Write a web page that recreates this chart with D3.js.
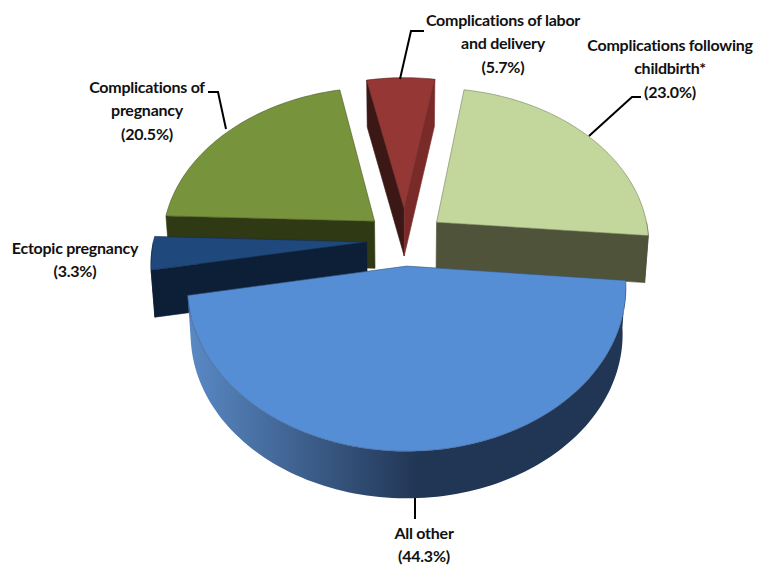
<!DOCTYPE html>
<html><head><meta charset="utf-8">
<script src="https://cdn.jsdelivr.net/npm/d3@7"></script>
<style>html,body{margin:0;background:#fff}svg{display:block}
text{font-family:"Lato","Liberation Sans",sans-serif;font-weight:700;font-size:16px;letter-spacing:-.25px;fill:#111;text-anchor:middle;dominant-baseline:central}</style>
</head><body><svg id="c" width="764" height="566"></svg>
<script>
const categories=["Complications of labor and delivery","Complications following childbirth*","All other","Ectopic pregnancy","Complications of pregnancy"];
const shares=[5.7,23.0,44.3,3.3,20.5];
const explodes=[0.205,0.19,0.165,0.18,0.19];
const topColors=["#953735","#c3d69b","#558ed5","#1f497d","#77933c"];
const startFaceColors=["#3b1715","#4f5339","#2a4a75","#0c1f36","#2f3a15"];
const endFaceColors=["#7a2b29","#4f5339","#2a4a75","#0c1f36","#2f3a15"];
const outerColors=["#632523","#4f5339","url(#blueSide)","#0c1f36","#2f3a15"];
const labelLines=[["Complications of labor","and delivery","(5.7%)"],["Complications following","childbirth*","(23.0%)"],["All other","(44.3%)"],["Ectopic pregnancy","(3.3%)"],["Complications of","pregnancy","(20.5%)"]];

const svg=d3.select("#c");
const cx=405,cy=240,R=213,S=155,P=0.125,D=47,K=0.985;
const labelX=[503,670,424,75,147],labelY=[19,44,532,247,86],lineGap=23.5;
const leaders=[[[400,79],[411,31],[424,31]],[[589,136],[632,97],[641,97]],[[415,498],[415,519]],[],[[226,129],[218,92],[208,92]]];

const toRad=d=>d*Math.PI/180;
const pie=d3.pie().sort(null).value(d=>d).startAngle(toRad(-11.7)).endAngle(toRad(348.3));
const arcs=pie(shares);

const grad=svg.append("defs").append("linearGradient").attr("id","blueSide").attr("gradientUnits","userSpaceOnUse")
  .attr("x1",186).attr("x2",420).attr("y1",0).attr("y2",0);
grad.append("stop").attr("offset",0).attr("stop-color","#5a8ac6");
grad.append("stop").attr("offset",1).attr("stop-color","#213554");

function project(u,v,bottom){
  const w=1-P*v;
  const k=bottom?K:1;
  return [cx+k*R*u/w, cy+S*v/w+(bottom?D:0)];
}
function plane(i,theta){
  const a=arcs[i], mid=(a.startAngle+a.endAngle)/2, e=explodes[i];
  return [e*Math.sin(mid)+ (theta==null?0:Math.sin(theta)), -e*Math.cos(mid)-(theta==null?0:Math.cos(theta))];
}
const line=d3.line();
function arcPts(i,t0,t1,bottom){
  const n=Math.max(2,Math.ceil(Math.abs(t1-t0)/toRad(1.5)));
  return d3.range(n+1).map(j=>{const t=t0+(t1-t0)*j/n;const p=plane(i,t);return project(p[0],p[1],bottom);});
}
function cross(a,b,c){return (b[0]-a[0])*(c[1]-a[1])-(b[1]-a[1])*(c[0]-a[0]);}

const order=[4,1,0,3,2];
order.forEach(i=>{
  const a=arcs[i], g=svg.append("g");
  const ap=plane(i,null), apT=project(ap[0],ap[1],false), apB=project(ap[0],ap[1],true);
  const face=(t,col,isStart)=>{
    const p=plane(i,t), oT=project(p[0],p[1],false), oB=project(p[0],p[1],true);
    const c=cross(apT,oT,[oT[0],oT[1]+10]);
    if(isStart? c<0 : c>0){
      g.append("path").attr("d",line([apT,oT,oB,apB])+"Z").attr("fill",col).attr("stroke",col).attr("stroke-width",.6);
    }
  };
  face(a.startAngle,startFaceColors[i],true);
  face(a.endAngle,endFaceColors[i],false);
  const t0=Math.max(a.startAngle,toRad(90)), t1=Math.min(a.endAngle,toRad(270));
  if(t1>t0){
    g.append("path").attr("d",line(arcPts(i,t0,t1,false).concat(arcPts(i,t1,t0,true)))+"Z")
      .attr("fill",outerColors[i]).attr("stroke",i===2?"none":outerColors[i]).attr("stroke-width",.6);
  }
  g.append("path").attr("d",line([apT].concat(arcPts(i,a.startAngle,a.endAngle,false)))+"Z")
    .attr("fill",topColors[i]).attr("stroke",d3.color(topColors[i]).darker(1.4)).attr("stroke-width",.6);
});

leaders.forEach(pts=>{ if(pts.length) svg.append("path").attr("d",line(pts)).attr("fill","none").attr("stroke","#000").attr("stroke-width",2);});
labelLines.forEach((ls,i)=>{
  ls.forEach((s,j)=>svg.append("text").attr("x",labelX[i]).attr("y",labelY[i]+j*lineGap).text(s));
});
</script></body></html>
